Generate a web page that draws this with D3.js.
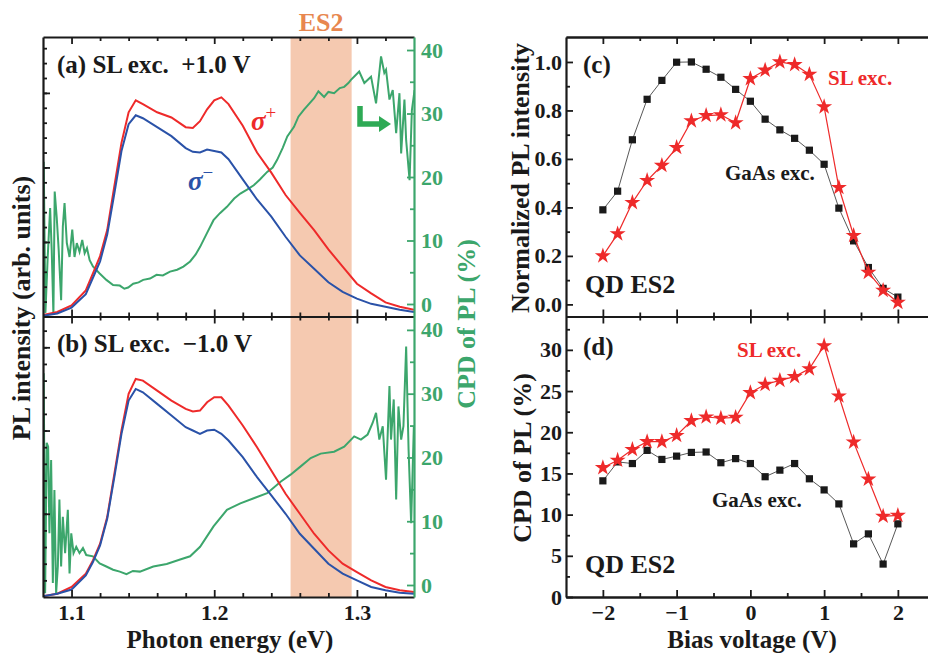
<!DOCTYPE html>
<html>
<head>
<meta charset="utf-8">
<title>PL spectra and CPD vs bias</title>
<script src="https://d3js.org/d3.v7.min.js"></script>
<style>
  body { margin: 0; background: #fff; }
  text { font-family: "Liberation Serif", "Times New Roman", serif; font-weight: bold; }
</style>
</head>
<body>
<div id="chart"></div>
<script>
// ---- data ----
// photon energy grid for the sigma+/sigma- spectra (eV)
const energy = [1.08, 1.09, 1.10, 1.11, 1.115, 1.12, 1.125, 1.13, 1.135, 1.14, 1.145, 1.15, 1.16, 1.17, 1.18, 1.185,
  1.19, 1.195, 1.20, 1.205, 1.21, 1.22, 1.23, 1.24, 1.25, 1.26, 1.27, 1.28, 1.29, 1.30, 1.31, 1.32, 1.33, 1.34];

// (a) +1.0 V, arb. units
const sigPlusA = [0.02, 0.06, 0.15, 0.35, 0.58, 0.81, 1.16, 1.75, 2.33, 2.74, 2.90, 2.85, 2.74, 2.67, 2.54, 2.53,
  2.62, 2.78, 2.90, 2.94, 2.85, 2.56, 2.20, 1.93, 1.63, 1.39, 1.16, 0.90, 0.67, 0.44, 0.31, 0.19, 0.13, 0.09];
const sigMinusA = [0.01, 0.04, 0.12, 0.30, 0.52, 0.74, 1.10, 1.65, 2.22, 2.58, 2.70, 2.66, 2.54, 2.42, 2.26, 2.21,
  2.20, 2.24, 2.22, 2.20, 2.11, 1.84, 1.57, 1.34, 1.07, 0.82, 0.64, 0.46, 0.33, 0.24, 0.17, 0.13, 0.09, 0.06];

// (b) -1.0 V, arb. units
const sigPlusB = [0.01, 0.04, 0.12, 0.28, 0.44, 0.64, 0.96, 1.48, 2.00, 2.44, 2.62, 2.60, 2.48, 2.36, 2.26, 2.23,
  2.24, 2.34, 2.40, 2.40, 2.30, 2.06, 1.80, 1.52, 1.24, 1.00, 0.76, 0.56, 0.40, 0.30, 0.20, 0.12, 0.08, 0.06];
const sigMinusB = [0.01, 0.04, 0.09, 0.26, 0.42, 0.62, 0.94, 1.44, 1.96, 2.36, 2.50, 2.46, 2.32, 2.18, 2.04, 2.00,
  1.96, 2.00, 2.01, 1.96, 1.88, 1.68, 1.44, 1.22, 1.00, 0.76, 0.58, 0.40, 0.28, 0.20, 0.12, 0.08, 0.05, 0.04];

// CPD spectra (%), [energy, value]
const cpdA = [[1.0805, 22.4], [1.0817, -1.4], [1.0833, 7.4], [1.0850, 15.1], [1.0861, 8.5], [1.0873, -1.7],
  [1.0882, 17.7], [1.0896, 13.7], [1.0910, 8.5], [1.0927, 0.6], [1.0939, 12.2], [1.0951, 15.9], [1.0967, 9.6],
  [1.0986, 7.4], [1.1005, 11.7], [1.1021, 7.4], [1.1037, 9.6], [1.1056, 8.2], [1.1075, 10.1], [1.1092, 8.0],
  [1.1108, 8.8], [1.1127, 6.9], [1.1150, 5.9], [1.1197, 4.8], [1.1244, 3.8], [1.1291, 3.0], [1.1338, 2.9],
  [1.1370, 2.4], [1.1397, 2.6], [1.1432, 3.2], [1.1470, 3.4], [1.1502, 3.8], [1.1550, 4.0], [1.1596, 4.6],
  [1.1640, 4.5], [1.1690, 5.1], [1.1740, 5.4], [1.1784, 5.9], [1.1831, 6.7], [1.1870, 7.8], [1.1901, 9.0],
  [1.1950, 11.2], [1.1995, 13.2], [1.2040, 14.3], [1.2089, 15.3], [1.2140, 16.6], [1.2183, 17.4], [1.2230, 18.0],
  [1.2277, 18.7], [1.2320, 19.6], [1.2371, 20.8], [1.2410, 21.5], [1.2441, 22.7], [1.2480, 24.6], [1.2512, 26.4],
  [1.2559, 27.9], [1.2590, 29.5], [1.2629, 30.6], [1.2660, 31.4], [1.2700, 32.4], [1.2730, 33.5], [1.2770, 32.6],
  [1.2800, 33.4], [1.2840, 33.2], [1.2880, 34.0], [1.2911, 34.2], [1.2940, 34.8], [1.2958, 35.3], [1.2985, 35.9],
  [1.3016, 36.6], [1.3052, 34.8], [1.3099, 35.8], [1.3134, 31.6], [1.3169, 39.0], [1.3192, 36.4], [1.3204, 36.9],
  [1.3228, 32.2], [1.3251, 33.7], [1.3275, 26.9], [1.3298, 33.2], [1.3310, 23.7], [1.3333, 32.2], [1.3345, 25.8],
  [1.3369, 19.5], [1.3385, 30.5], [1.3404, 33.7]];

const cpdB = [[1.0800, -1.8], [1.0805, 33.2], [1.0815, -1.3], [1.0826, 22.3], [1.0836, 21.7], [1.0845, 8.1],
  [1.0857, 19.6], [1.0869, 0.3], [1.0880, 14.9], [1.0892, -1.3], [1.0904, 2.9], [1.0915, 13.4], [1.0927, 2.9],
  [1.0939, 10.7], [1.0955, 5.0], [1.0974, 11.8], [1.0986, 1.8], [1.0998, 8.1], [1.1014, 5.0], [1.1033, 6.0],
  [1.1056, 5.0], [1.1080, 5.8], [1.1103, 4.7], [1.1150, 4.5], [1.1197, 3.4], [1.1244, 2.9], [1.1291, 2.4],
  [1.1338, 2.1], [1.1385, 1.7], [1.1430, 2.2], [1.1479, 2.1], [1.1573, 2.9], [1.1667, 3.3], [1.1761, 4.0],
  [1.1831, 4.5], [1.1901, 6.0], [1.1995, 9.2], [1.2089, 11.8], [1.2183, 12.8], [1.2277, 13.6], [1.2371, 14.4],
  [1.2465, 16.2], [1.2535, 17.3], [1.2606, 18.6], [1.2676, 19.9], [1.2746, 20.6], [1.2840, 20.9], [1.2911, 21.7],
  [1.2981, 23.3], [1.3028, 22.8], [1.3075, 23.6], [1.3110, 25.4], [1.3134, 27.0], [1.3157, 22.8], [1.3181, 24.9],
  [1.3204, 16.5], [1.3228, 31.2], [1.3239, 22.8], [1.3258, 29.1], [1.3275, 13.4], [1.3291, 28.0], [1.3310, 22.8],
  [1.3326, 24.9], [1.3345, 37.4], [1.3362, 21.2], [1.3380, 9.7], [1.3399, 24.9]];

const es2Band = [1.2535, 1.2963];

// bias dependence
const bias = [-2, -1.8, -1.6, -1.4, -1.2, -1, -0.8, -0.6, -0.4, -0.2, 0, 0.2, 0.4, 0.6, 0.8, 1, 1.2, 1.4, 1.6, 1.8, 2];
const normGaAs = [0.39, 0.467, 0.679, 0.846, 0.924, 0.999, 1.0, 0.97, 0.937, 0.887, 0.838, 0.764, 0.72, 0.685,
  0.636, 0.578, 0.397, 0.262, 0.152, 0.066, 0.03];
const normSL = [0.2, 0.291, 0.42, 0.511, 0.573, 0.647, 0.757, 0.779, 0.782, 0.749, 0.931, 0.966, 1.0, 0.989,
  0.949, 0.815, 0.482, 0.284, 0.132, 0.058, 0.008];
const cpdGaAs = [14.1, 16.4, 16.2, 17.8, 16.7, 17.1, 17.55, 17.6, 16.3, 16.8, 16.2, 14.6, 15.4, 16.2, 14.35,
  13.0, 11.3, 6.45, 7.66, 4.0, 8.88];
const cpdSL = [15.7, 16.6, 17.9, 18.85, 18.85, 19.6, 21.4, 21.85, 21.7, 21.8, 24.8, 25.8, 26.3, 26.75, 27.7,
  30.5, 24.4, 18.8, 14.3, 9.8, 9.9];

// ---- layout ----
const width = 928, height = 653;
const red = "#ee2a2a", blue = "#2a52a8", green = "#3ca66c", black = "#1a1a1a";
const L = { x0: 43, x1: 414 };
const R = { x0: 566, x1: 934.75 };
const topY = 37, midY = 316.5, botY = 597;

const svg = d3.select("#chart").append("svg")
  .attr("width", width).attr("height", height)
  .style("background", "#fff");

const xE = d3.scaleLinear().domain([1.08, 1.34]).range([L.x0, L.x1]);
const xV = d3.scaleLinear().domain([-2.5, 2.5]).range([R.x0, R.x1]);

const yIa = d3.scaleLinear().domain([0, 3.75]).range([midY, topY]);
const yIb = d3.scaleLinear().domain([0, 3.37]).range([botY, midY]);
const yCa = d3.scaleLinear().domain([-1.97, 42.05]).range([midY, topY]);
const yCb = d3.scaleLinear().domain([-1.88, 42.1]).range([botY, midY]);
const yN = d3.scaleLinear().domain([-0.05, 1.103]).range([midY, topY]);
const yD = d3.scaleLinear().domain([0, 34.05]).range([botY, midY]);

// clip areas for the two spectra panels
const defs = svg.append("defs");
[["clipA", topY, midY], ["clipB", midY, botY]].forEach(c => {
  defs.append("clipPath").attr("id", c[0]).append("rect")
    .attr("x", L.x0).attr("y", c[1]).attr("width", L.x1 - L.x0).attr("height", c[2] - c[1]);
});

// ES2 shaded band across both panels
svg.append("rect")
  .attr("x", xE(es2Band[0])).attr("y", topY)
  .attr("width", xE(es2Band[1]) - xE(es2Band[0])).attr("height", botY - topY)
  .attr("fill", "#f5c9b0");

svg.append("text").attr("x", xE((es2Band[0] + es2Band[1]) / 2)).attr("y", 31)
  .attr("text-anchor", "middle").attr("font-size", 26).attr("fill", "#e8874f").text("ES2");

// spectra lines
function drawSpectra(clip, yI, yC, plus, minus, cpd) {
  const g = svg.append("g").attr("clip-path", `url(#${clip})`);
  const lineI = d3.line().x((d, i) => xE(energy[i])).y(d => yI(d));
  g.append("path").datum(cpd)
    .attr("d", d3.line().x(d => xE(d[0])).y(d => yC(d[1])))
    .attr("fill", "none").attr("stroke", green).attr("stroke-width", 2);
  g.append("path").datum(plus).attr("d", lineI)
    .attr("fill", "none").attr("stroke", red).attr("stroke-width", 2);
  g.append("path").datum(minus).attr("d", lineI)
    .attr("fill", "none").attr("stroke", blue).attr("stroke-width", 2);
}
drawSpectra("clipA", yIa, yCa, sigPlusA, sigMinusA, cpdA);
drawSpectra("clipB", yIb, yCb, sigPlusB, sigMinusB, cpdB);

// generic axis styling
function styleAxis(g, color, size) {
  g.select(".domain").attr("stroke", color).attr("stroke-width", 2.2);
  g.selectAll(".tick line").attr("stroke", color).attr("stroke-width", 1.8);
  g.selectAll(".tick text").attr("fill", color).attr("font-size", size || 22)
    .style("font-family", '"Liberation Serif", "Times New Roman", serif').style("font-weight", "bold");
  return g;
}
function addAxis(gen, transform, color, size) {
  const g = svg.append("g").attr("transform", transform).call(gen);
  return styleAxis(g, color, size);
}

// ---- left panels: axes ----
const eMajor = [1.1, 1.2, 1.3];
const eMinor = d3.range(1.12, 1.335, 0.02).filter(v => Math.abs(v * 10 - Math.round(v * 10)) > 1e-6);
[[topY, false], [midY, false], [botY, true]].forEach(([y, labels]) => {
  const isTop = y === topY;
  const gen = (isTop ? d3.axisBottom(xE).tickSize(7) : d3.axisBottom(xE).tickSize(-7))
    .tickValues(eMajor).tickSizeOuter(0).tickPadding(7)
    .tickFormat(labels ? d3.format(".1f") : "");
  addAxis(gen, `translate(0,${y})`, black);
  const genMin = (isTop ? d3.axisBottom(xE).tickSize(4) : d3.axisBottom(xE).tickSize(-4))
    .tickValues(eMinor).tickSizeOuter(0).tickFormat("");
  addAxis(genMin, `translate(0,${y})`, black).select(".domain").remove();
  if (y === midY) {
    // ticks of panel (b) top edge pointing down
    addAxis(d3.axisBottom(xE).tickSize(7).tickValues(eMajor).tickSizeOuter(0).tickFormat(""),
      `translate(0,${y})`, black).select(".domain").remove();
    addAxis(d3.axisBottom(xE).tickSize(4).tickValues(eMinor).tickSizeOuter(0).tickFormat(""),
      `translate(0,${y})`, black).select(".domain").remove();
  }
});

// left intensity axes (no labels)
[[yIa, 3.75], [yIb, 3.37]].forEach(([y, top]) => {
  addAxis(d3.axisLeft(y).tickValues([1, 2, 3]).tickSize(-7).tickSizeOuter(0).tickFormat(""),
    `translate(${L.x0},0)`, black);
  addAxis(d3.axisLeft(y).tickValues(d3.range(0.2, top, 0.2)).tickSize(-4).tickSizeOuter(0).tickFormat(""),
    `translate(${L.x0},0)`, black).select(".domain").remove();
});

// right CPD axes (green)
[yCa, yCb].forEach(y => {
  addAxis(d3.axisRight(y).tickValues([0, 10, 20, 30, 40]).tickSize(-7).tickSizeOuter(0).tickPadding(7),
    `translate(${L.x1},0)`, green);
  addAxis(d3.axisRight(y).tickValues([5, 15, 25, 35]).tickSize(-4).tickSizeOuter(0).tickFormat(""),
    `translate(${L.x1},0)`, green).select(".domain").remove();
});

// ---- right panels ----
const vMajor = [-2, -1, 0, 1, 2];
const vMinor = [-1.5, -0.5, 0.5, 1.5];
[topY, midY, botY].forEach(y => {
  const down = y === topY || y === midY;
  const up = y === midY || y === botY;
  if (down) {
    addAxis(d3.axisBottom(xV).tickValues(vMajor).tickSize(7).tickSizeOuter(0).tickFormat(""), `translate(0,${y})`, black);
    addAxis(d3.axisBottom(xV).tickValues(vMinor).tickSize(4).tickSizeOuter(0).tickFormat(""), `translate(0,${y})`, black);
  }
  if (up) {
    addAxis(d3.axisBottom(xV).tickValues(vMajor).tickSize(-7).tickSizeOuter(0).tickPadding(7)
      .tickFormat(y === botY ? d3.format("d") : ""), `translate(0,${y})`, black);
    addAxis(d3.axisBottom(xV).tickValues(vMinor).tickSize(-4).tickSizeOuter(0).tickFormat(""), `translate(0,${y})`, black);
  }
});

addAxis(d3.axisLeft(yN).tickValues([0, 0.2, 0.4, 0.6, 0.8, 1.0]).tickSize(-7).tickSizeOuter(0).tickPadding(4)
  .tickFormat(d3.format(".1f")), `translate(${R.x0},0)`, black);
addAxis(d3.axisLeft(yN).tickValues([0.1, 0.3, 0.5, 0.7, 0.9]).tickSize(-4).tickSizeOuter(0).tickFormat(""),
  `translate(${R.x0},0)`, black).select(".domain").remove();
addAxis(d3.axisLeft(yD).tickValues([0, 5, 10, 15, 20, 25, 30]).tickSize(-7).tickSizeOuter(0).tickPadding(4),
  `translate(${R.x0},0)`, black);
addAxis(d3.axisLeft(yD).tickValues([2.5, 7.5, 12.5, 17.5, 22.5, 27.5, 32.5]).tickSize(-4).tickSizeOuter(0).tickFormat(""),
  `translate(${R.x0},0)`, black).select(".domain").remove();

// series with markers
function drawSeries(vals, y, color, lw, symbol, size) {
  const pts = bias.map((b, i) => [b, vals[i]]);
  svg.append("path").datum(pts)
    .attr("d", d3.line().x(d => xV(d[0])).y(d => y(d[1])))
    .attr("fill", "none").attr("stroke", color).attr("stroke-width", lw);
  svg.append("g").selectAll("path").data(pts).join("path")
    .attr("transform", d => `translate(${xV(d[0])},${y(d[1])})`)
    .attr("d", d3.symbol(symbol, size))
    .attr("fill", symbol === d3.symbolStar ? red : black);
}
drawSeries(normGaAs, yN, "#444", 0.9, d3.symbolSquare, 52);
drawSeries(normSL, yN, red, 1.2, d3.symbolStar, 80);
drawSeries(cpdGaAs, yD, "#444", 0.9, d3.symbolSquare, 52);
drawSeries(cpdSL, yD, red, 1.2, d3.symbolStar, 80);

// ---- text labels ----
function label(x, y, txt, size, color, anchor) {
  return svg.append("text").attr("x", x).attr("y", y)
    .attr("font-size", size).attr("fill", color || black)
    .attr("text-anchor", anchor || "start").style("white-space", "pre").text(txt);
}
label(57, 73, "(a) SL exc.  +1.0 V", 25);
label(57, 352, "(b) SL exc.  \u22121.0 V", 25);

const sp = label(251, 130, "", 27, red);
sp.append("tspan").style("font-style", "italic").text("σ");
sp.append("tspan").attr("dy", -11).attr("font-size", 19).attr("font-weight", "normal").text("+");
const sm = label(188, 190, "", 27, blue);
sm.append("tspan").style("font-style", "italic").text("σ");
sm.append("tspan").attr("dy", -11).attr("font-size", 19).attr("font-weight", "normal").text("\u2212");

// green arrow pointing to the right axis
svg.append("path").attr("d", "M360,106 V124 H381")
  .attr("fill", "none").attr("stroke", "#2eaa55").attr("stroke-width", 5.5);
svg.append("path").attr("d", "M379,116 L391,124 L379,132 Z").attr("fill", "#2eaa55");

label(583, 73, "(c)", 25);
label(828, 85, "SL exc.", 21, red);
label(725, 180, "GaAs exc.", 21);
label(585, 293, "QD ES2", 26);
label(583, 355, "(d)", 25);
label(737, 357, "SL exc.", 21, red);
label(712, 507, "GaAs exc.", 21);
label(585, 573, "QD ES2", 26);

// axis titles
label(230, 648, "Photon energy (eV)", 25, black, "middle");
label(752, 648, "Bias voltage (V)", 25, black, "middle");
label(0, 0, "PL intensity (arb. units)", 26, black, "middle")
  .attr("transform", "translate(30,308) rotate(-90)");
label(0, 0, "CPD of PL (%)", 26, green, "middle")
  .attr("transform", "translate(475,324) rotate(-90)");
label(0, 0, "Normalized PL intensity", 26, black, "middle")
  .attr("transform", "translate(529,178) rotate(-90)");
label(0, 0, "CPD of PL (%)", 26, black, "middle")
  .attr("transform", "translate(531,458) rotate(-90)");
</script>
</body>
</html>
